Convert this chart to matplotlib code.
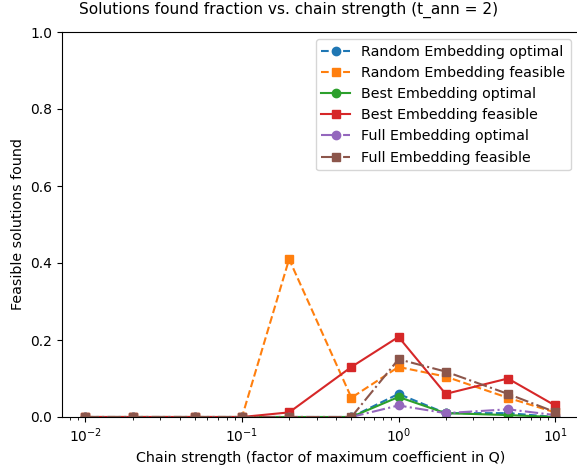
import matplotlib.pyplot as plt

chain_strength = [0.01, 0.02, 0.05, 0.1, 0.2, 0.5, 1, 2, 5, 10]

random_optimal = [0, 0, 0, 0, 0, 0, 0.06, 0.01, 0.01, 0.0]
random_feasible = [0, 0, 0, 0, 0.41, 0.05, 0.13, 0.105, 0.05, 0.012]
best_optimal = [0, 0, 0, 0, 0, 0, 0.052, 0.01, 0.005, 0.0]
best_feasible = [0, 0, 0, 0, 0.012, 0.13, 0.208, 0.06, 0.10, 0.03]
full_optimal = [0, 0, 0, 0, 0, 0, 0.03, 0.01, 0.02, 0.005]
full_feasible = [0, 0, 0, 0, 0, 0, 0.15, 0.118, 0.06, 0.013]

series = [
    ("Random Embedding optimal", random_optimal, "--", "o"),
    ("Random Embedding feasible", random_feasible, "--", "s"),
    ("Best Embedding optimal", best_optimal, "-", "o"),
    ("Best Embedding feasible", best_feasible, "-", "s"),
    ("Full Embedding optimal", full_optimal, "-.", "o"),
    ("Full Embedding feasible", full_feasible, "-.", "s"),
]

fig = plt.figure(figsize=(5.77, 4.71), dpi=100)
# the right edge of the axes sits just past the image border
ax = fig.add_axes([62 / 577, 54 / 471, 516.5 / 577, 385 / 471])

for i, (label, vals, ls, mk) in enumerate(series):
    ax.plot(chain_strength, vals, linestyle=ls, marker=mk, color=f"C{i}", label=label)

ax.set_xscale("log")
ax.set_ylim(0, 1.0)
ax.spines["right"].set_visible(False)
ax.tick_params(labelsize=10)
ax.set_xlabel("Chain strength (factor of maximum coefficient in Q)", fontsize=10.3)
ax.set_ylabel("Feasible solutions found", fontsize=10.3)
ax.legend(loc="upper right", fontsize=10.3)
fig.suptitle("Solutions found fraction vs. chain strength (t_ann = 2)", fontsize=11.1, y=0.997)

fig.savefig("out.png", dpi=100)
